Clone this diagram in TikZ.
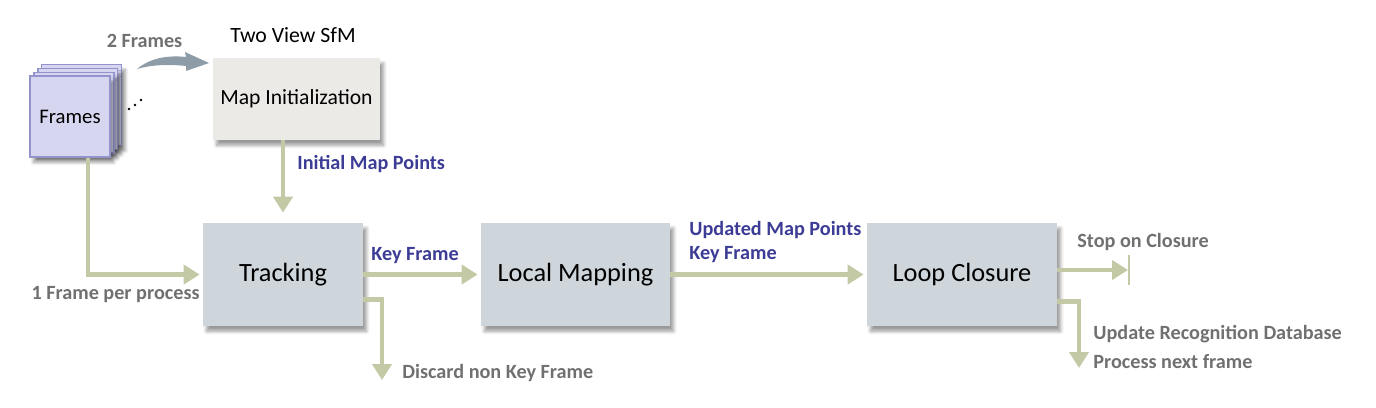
\documentclass[tikz,border=0pt]{standalone}
\usepackage{fontspec}
\setmainfont{Carlito}
\usetikzlibrary{positioning, arrows.meta, calc, shadows.blur}

\definecolor{flowolive}{HTML}{C4C9A5}
\definecolor{boxgray}{HTML}{CFD6DB}
\definecolor{initgray}{HTML}{EBEAE6}
\definecolor{sheetfill}{HTML}{D6D6F0}
\definecolor{sheetline}{HTML}{9494CC}
\definecolor{labelblue}{HTML}{3C3C96}
\definecolor{labelgray}{HTML}{707070}
\definecolor{swoosh}{HTML}{8D9CA7}

\tikzset{
    boxshadow/.style={blur shadow={shadow xshift=2pt, shadow yshift=-3pt,
        shadow blur steps=6, shadow opacity=40}},
    stagebox/.style={fill=boxgray, boxshadow,
        font=\fontsize{15}{18}\selectfont},
    sheet/.style={draw=sheetline, fill=sheetfill, line width=0.8pt,
        minimum width=1.6cm, minimum height=1.62cm, boxshadow},
    flow/.style={draw=flowolive, line width=2.6pt,
        -{Triangle[width=0.38cm, length=0.32cm]}, shorten >=0.06cm},
    bluelabel/.style={text=labelblue, inner sep=0pt,
        font=\fontsize{11.5}{14}\selectfont\bfseries},
    graylabel/.style={text=labelgray, inner sep=0pt,
        font=\fontsize{11.5}{14}\selectfont\bfseries}
}

\begin{document}
\begin{tikzpicture}[x=0.02cm, y=-0.02cm]
\useasboundingbox (0,0) rectangle (1376,408);

% stack of frames
\coordinate (framepos) at (70,116.5);
\foreach \i in {3,2,1}
    \node[sheet] (sheet\i) at ($(framepos)+(3.9*\i,-3.8*\i)$) {};
\node[sheet, font=\fontsize{11.8}{14}\selectfont] (frames) at (framepos) {Frames};

\fill (129,109) circle (1.3) (135,105) circle (1.3) (141,100) circle (1.3);

% initialization
\node[fill=initgray, boxshadow,
        minimum width=3.34cm,
        minimum height=1.64cm,
        font=\fontsize{12.3}{15}\selectfont] (mapinit) at (296.5,99) {Map Initialization};

\node[inner sep=0pt, font=\fontsize{12.4}{15}\selectfont] (sfm) at (293,35) {Two View SfM};
\node[graylabel] (twoframes) at (144.5,41) {2 Frames};

\fill[swoosh] (137,69) .. controls (150,58) and (168,55) .. (186,57)
    -- (185,52) -- (209,63) -- (186,71)
    -- (186,66) .. controls (168,64) and (150,65) .. (137,69) -- cycle;

% main pipeline
\node[stagebox,
        minimum width=3.2cm,
        minimum height=2.06cm] (tracking) at (283,274.5) {Tracking};
\node[stagebox,
        minimum width=3.78cm,
        minimum height=2.06cm] (localmap) at (575.5,274.5) {Local Mapping};
\node[stagebox,
        minimum width=3.8cm,
        minimum height=2.06cm] (loop) at (962,274.5) {Loop Closure};

\draw[flow, shorten >=0.2cm]
    (mapinit.south -| tracking.north) -- (tracking.north);
\node[bluelabel, anchor=west] (initpts) at (297,164) {Initial Map Points};

\draw[flow]
    ($(frames.south)+(18,0)$) |- (tracking.west);
\node[graylabel, anchor=east] (oneframe) at (200,295) {1 Frame per process};

\draw[flow] (tracking.east) -- (localmap.west);
\node[bluelabel, anchor=west] (keyframe) at (371,256) {Key Frame};

\coordinate (discard) at (382,380);
\draw[flow, shorten >=0pt]
    ($(tracking.east)+(0,25)$) -| (discard);
\node[graylabel, anchor=west] (discardlbl) at (402,373) {Discard non Key Frame};

\draw[flow] (localmap.east) -- (loop.west);
\node[bluelabel, anchor=west] (updpts) at (689,230) {Updated Map Points};
\node[bluelabel, anchor=west] (updkey) at (689,255) {Key Frame};

% after loop closure
\coordinate (stop) at (1129,270);
\draw[flow, shorten >=0.02cm] (loop.east |- stop) -- (stop);
\draw[flowolive, line width=0.8pt]
    ($(stop)+(0,-15)$) -- ($(stop)+(0,15)$);
\node[graylabel, anchor=west] (stoplbl) at (1077,242) {Stop on Closure};

\coordinate (update) at (1079,368);
\draw[flow, shorten >=0pt]
    ($(loop.east)+(0,27)$) -| (update);
\node[graylabel, anchor=west] (updlbl) at (1093,334) {Update Recognition Database};
\node[graylabel, anchor=west] (nextlbl) at (1093,362) {Process next frame};

\end{tikzpicture}
\end{document}
